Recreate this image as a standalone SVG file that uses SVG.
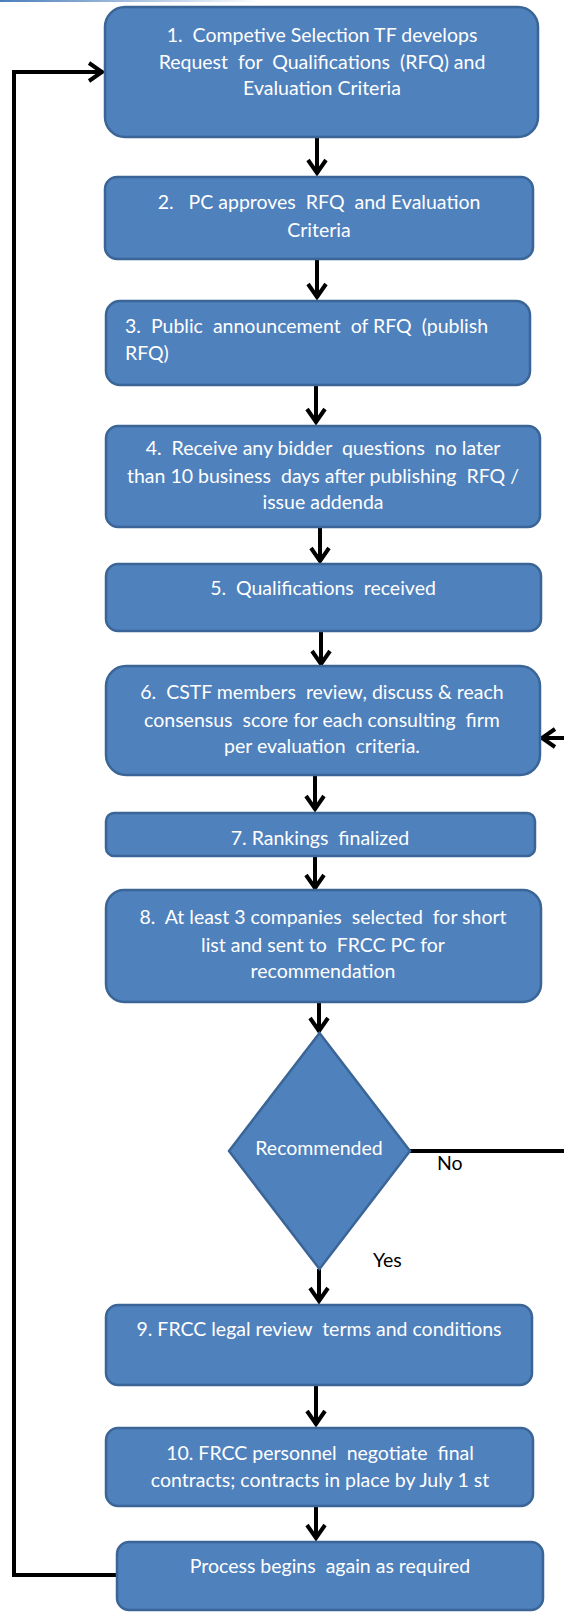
<svg xmlns="http://www.w3.org/2000/svg" width="564" height="1612" viewBox="0 0 564 1612">
<style>
.box{fill:#4F81BD;stroke:#3A6596;stroke-width:2.5}
.t{font-family:Lato,"Open Sans",sans-serif;font-size:19.5px;fill:#fff;text-anchor:middle;white-space:pre}
.tl{font-family:Lato,"Open Sans",sans-serif;font-size:19.5px;fill:#fff;white-space:pre}
.lbl{font-family:Lato,"Open Sans",sans-serif;font-size:19.5px;fill:#000}
.c{fill:none;stroke:#000;stroke-width:4}
</style>
<defs>
<linearGradient id="tg" x1="0" x2="1" y1="0" y2="0">
<stop offset="0" stop-color="#4A7EBB"/>
<stop offset="1" stop-color="#4A7EBB" stop-opacity="0"/>
</linearGradient>
<marker id="ah" markerUnits="userSpaceOnUse" markerWidth="30" markerHeight="30" viewBox="-20 -15 25 30" refX="0" refY="0" orient="auto" overflow="visible">
<path d="M-14,-9 L-1,0 L-14,9" fill="none" stroke="#000" stroke-width="4"/>
</marker>
</defs>
<rect x="0" y="0" width="260" height="2" fill="url(#tg)"/>
<g id="connectors">
<path class="c" d="M317,137 V174" marker-end="url(#ah)"/>
<path class="c" d="M317,259 V298" marker-end="url(#ah)"/>
<path class="c" d="M316,385 V423" marker-end="url(#ah)"/>
<path class="c" d="M320,527 V562" marker-end="url(#ah)"/>
<path class="c" d="M321,631 V665" marker-end="url(#ah)"/>
<path class="c" d="M315,775 V810" marker-end="url(#ah)"/>
<path class="c" d="M315,856 V889" marker-end="url(#ah)"/>
<path class="c" d="M319,1002 V1032" marker-end="url(#ah)"/>
<path class="c" d="M319,1269 V1302" marker-end="url(#ah)"/>
<path class="c" d="M316,1385 V1425" marker-end="url(#ah)"/>
<path class="c" d="M316,1506 V1539" marker-end="url(#ah)"/>
<path class="c" d="M410,1151 H570 V738 H541" marker-end="url(#ah)"/>
<path class="c" d="M117,1575 H14 V72 H103" marker-end="url(#ah)"/>
</g>
<g id="n1">
<rect class="box" x="105" y="7" width="433" height="130" rx="20"/>
<text class="t" x="322" y="42">1.  Competive Selection TF develops</text>
<text class="t" x="322" y="69">Request  for  Qualifications  (RFQ) and</text>
<text class="t" x="322" y="95">Evaluation Criteria</text>
</g>
<g id="n2">
<rect class="box" x="105" y="177" width="428" height="82" rx="12"/>
<text class="t" x="319" y="209">2.   PC approves  RFQ  and Evaluation</text>
<text class="t" x="319" y="237">Criteria</text>
</g>
<g id="n3">
<rect class="box" x="106" y="301" width="424" height="84" rx="14"/>
<text class="tl" x="125" y="333">3.  Public  announcement  of RFQ  (publish</text>
<text class="tl" x="125" y="360">RFQ)</text>
</g>
<g id="n4">
<rect class="box" x="106" y="426" width="434" height="101" rx="12"/>
<text class="t" x="323" y="455">4.  Receive any bidder  questions  no later</text>
<text class="t" x="323" y="483">than 10 business  days after publishing  RFQ /</text>
<text class="t" x="323" y="509">issue addenda</text>
</g>
<g id="n5">
<rect class="box" x="106" y="564" width="435" height="67" rx="12"/>
<text class="t" x="323" y="595">5.  Qualifications  received</text>
</g>
<g id="n6">
<rect class="box" x="106" y="666" width="434" height="109" rx="20"/>
<text class="t" x="322" y="699">6.  CSTF members  review, discuss &amp; reach</text>
<text class="t" x="322" y="727">consensus  score for each consulting  firm</text>
<text class="t" x="322" y="753">per evaluation  criteria.</text>
</g>
<g id="n7">
<rect class="box" x="106" y="813" width="429" height="43" rx="8"/>
<text class="t" x="320" y="845">7. Rankings  finalized</text>
</g>
<g id="n8">
<rect class="box" x="106" y="890" width="435" height="112" rx="18"/>
<text class="t" x="323" y="924">8.  At least 3 companies  selected  for short</text>
<text class="t" x="323" y="952">list and sent to  FRCC PC for</text>
<text class="t" x="323" y="978">recommendation</text>
</g>
<g id="decision">
<polygon class="box" points="319.5,1033 410,1151 319.5,1269 229,1151"/>
<text class="t" x="319" y="1155">Recommended</text>
</g>
<text class="lbl" x="437" y="1170">No</text>
<text class="lbl" x="373" y="1267">Yes</text>
<g id="n9">
<rect class="box" x="106" y="1305" width="426" height="80" rx="12"/>
<text class="t" x="319" y="1336">9. FRCC legal review  terms and conditions</text>
</g>
<g id="n10">
<rect class="box" x="106" y="1428" width="427" height="78" rx="12"/>
<text class="t" x="320" y="1460">10. FRCC personnel  negotiate  final</text>
<text class="t" x="320" y="1487">contracts; contracts in place by July 1 st</text>
</g>
<g id="n11">
<rect class="box" x="117" y="1542" width="426" height="68" rx="12"/>
<text class="t" x="330" y="1573">Process begins  again as required</text>
</g>
</svg>
